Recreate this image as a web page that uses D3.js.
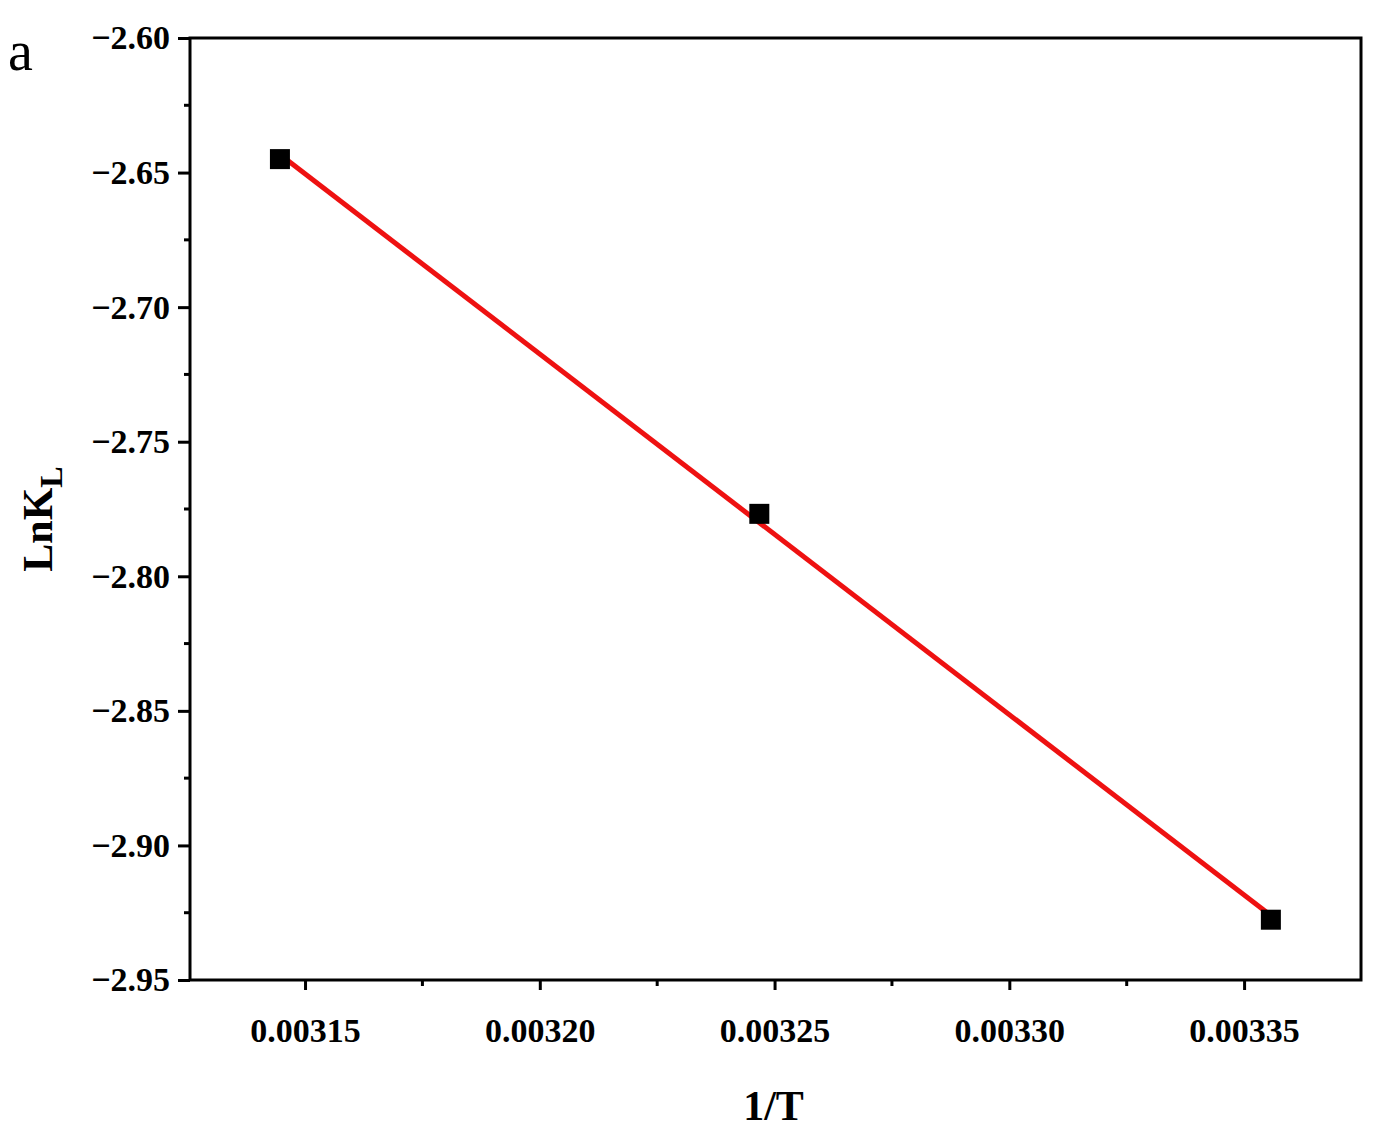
<!DOCTYPE html>
<html lang="en">
<head>
<meta charset="UTF-8">
<title>LnKL vs 1/T</title>
<style>
  body { margin: 0; background: #fff; }
  text { font-family: "Liberation Serif", "Times New Roman", serif; }
</style>
</head>
<body>
<div id="chart"></div>
<script src="https://d3js.org/d3.v7.min.js"></script>
<script>
const invT = [1 / 318, 1 / 308, 1 / 298];
const lnKL = [-2.645, -2.7768, -2.9276];
const xTicks = [0.00315, 0.00320, 0.00325, 0.00330, 0.00335];
const yTicks = [-2.60, -2.65, -2.70, -2.75, -2.80, -2.85, -2.90, -2.95];

const W = 1390, H = 1129;
const pLeft = 190, pRight = 1361, pTop = 38, pBottom = 980;

const svg = d3.select("#chart").append("svg").attr("width", W).attr("height", H);

const x = d3.scaleLinear().domain([0.0031255, 0.0033749]).range([pLeft, pRight]);
const y = d3.scaleLinear().domain([-2.95, -2.60]).range([pBottom, pTop]);

// frame
svg.append("rect").attr("x", pLeft).attr("y", pTop)
  .attr("width", pRight - pLeft).attr("height", pBottom - pTop)
  .attr("fill", "none").attr("stroke", "#000").attr("stroke-width", 3);

const fmtY = d => d3.format(".2f")(d).replace("-", "\u2212");
const xMinor = d3.range(0, 6).map(i => 0.003125 + i * 0.00005);
const yMinor = d3.range(0, 7).map(i => -2.625 - i * 0.05);

// x axis
const gx = svg.append("g").attr("transform", `translate(0,${pBottom})`);
gx.call(d3.axisBottom(x).tickValues(xTicks).tickFormat(d3.format(".5f")).tickSize(10).tickPadding(28));
gx.select(".domain").remove();
gx.selectAll(".tick line").attr("stroke-width", 3);
gx.selectAll("text").attr("font-size", 34).attr("font-weight", "bold");
gx.selectAll(".minor").data(xMinor.filter(v => x(v) >= pLeft && x(v) <= pRight)).enter().append("line")
  .attr("x1", d => x(d)).attr("x2", d => x(d)).attr("y1", 0).attr("y2", 6)
  .attr("stroke", "#000").attr("stroke-width", 3);

// y axis
const gy = svg.append("g").attr("transform", `translate(${pLeft},0)`);
gy.call(d3.axisLeft(y).tickValues(yTicks).tickFormat(fmtY).tickSize(12).tickPadding(8));
gy.select(".domain").remove();
gy.selectAll(".tick line").attr("stroke-width", 3);
gy.selectAll("text").attr("font-size", 34).attr("font-weight", "bold");
gy.selectAll(".minor").data(yMinor).enter().append("line")
  .attr("y1", d => y(d)).attr("y2", d => y(d)).attr("x1", 0).attr("x2", -6)
  .attr("stroke", "#000").attr("stroke-width", 3);

// axis titles
svg.append("text").attr("x", (pLeft + pRight) / 2 - 2).attr("y", 1120)
  .attr("text-anchor", "middle").attr("font-size", 42).attr("font-weight", "bold").text("1/T");
const yl = svg.append("text").attr("transform", `translate(52,${(pTop + pBottom) / 2 + 10}) rotate(-90)`)
  .attr("text-anchor", "middle").attr("font-size", 42).attr("font-weight", "bold");
yl.append("tspan").text("LnK");
yl.append("tspan").attr("font-size", 32).attr("dy", 10).text("L");

svg.append("text").attr("x", 8).attr("y", 70).attr("font-size", 56).text("a");

// linear fit
const mx = d3.mean(invT), my = d3.mean(lnKL);
const slope = d3.sum(invT, (v, i) => (v - mx) * (lnKL[i] - my)) / d3.sum(invT, v => (v - mx) ** 2);
const icpt = my - slope * mx;
const x0 = d3.min(invT), x1 = d3.max(invT);
svg.append("line")
  .attr("x1", x(x0)).attr("y1", y(icpt + slope * x0))
  .attr("x2", x(x1)).attr("y2", y(icpt + slope * x1))
  .attr("stroke", "#ee1111").attr("stroke-width", 5);

// points
svg.selectAll(".pt").data(invT).enter().append("rect")
  .attr("x", d => x(d) - 10).attr("y", (d, i) => y(lnKL[i]) - 10)
  .attr("width", 20).attr("height", 20).attr("fill", "#000");
</script>
</body>
</html>
